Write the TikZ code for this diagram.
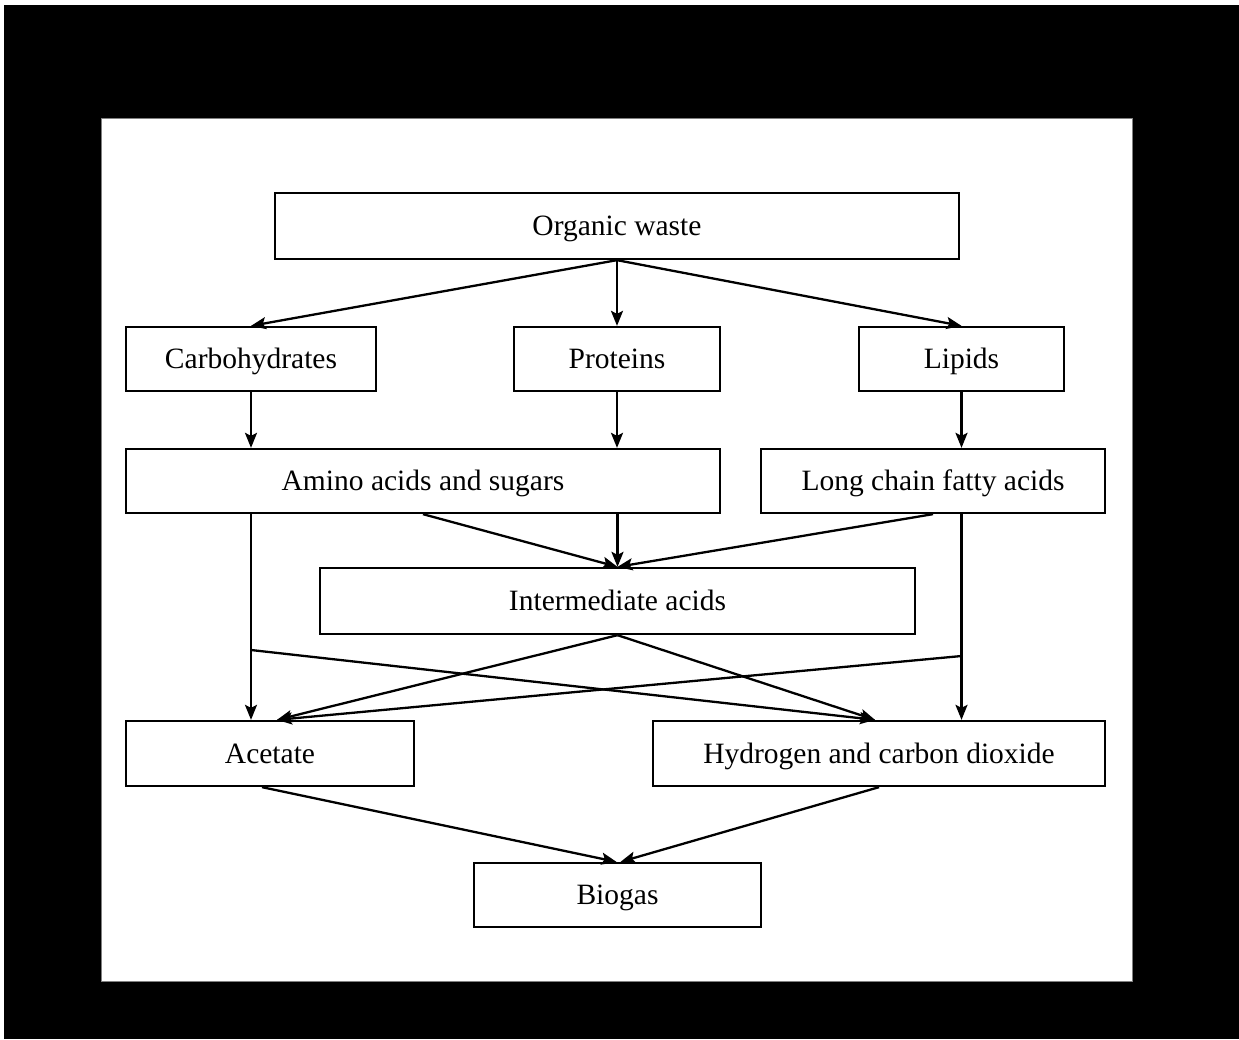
\documentclass[tikz,border=0pt]{standalone}
\usepackage{fontspec}
\setmainfont{Liberation Serif}
\usetikzlibrary{arrows.meta,calc}
\begin{document}
\begin{tikzpicture}[x=1pt,y=-1pt,
  box/.style={draw=black,line width=2.3pt,minimum height=64pt,inner sep=0pt,text height=19pt,text depth=0pt,font=\fontsize{29.5}{34}\selectfont},
  conn/.style={line width=2.3pt,-{Stealth[length=15pt,width=12pt,inset=3pt]}}]
\useasboundingbox (0,0) rectangle (1239,1039);
\fill[white] (0,0) rectangle (1239,1039);
\fill[black] (4,5) rectangle (1239,1039);
\draw[fill=white,draw=gray,line width=1pt] (101,118) rectangle (1132,981);

\node[box,minimum width=684pt,minimum height=66pt] (ow) at (617,226) {Organic waste};
\node[box,minimum width=250pt] (carb) at (251,359) {Carbohydrates};
\node[box,minimum width=206pt] (prot) at (617,359) {Proteins};
\node[box,minimum width=205pt] (lip) at (961.5,359) {Lipids};
\node[box,minimum width=594pt] (amino) at (423,481) {Amino acids and sugars};
\node[box,minimum width=344pt] (lcfa) at (933,481) {Long chain fatty acids};
\node[box,minimum width=595pt,minimum height=66pt] (inter) at (617.5,601) {Intermediate acids};
\node[box,minimum width=288pt,minimum height=65pt] (acet) at (270,753.5) {Acetate};
\node[box,minimum width=452pt,minimum height=65pt] (h2) at (879,753.5) {Hydrogen and carbon dioxide};
\node[box,minimum width=287pt] (bio) at (617.5,895) {Biogas};

\coordinate (ja) at (251,650);
\coordinate (jl) at (961.5,656);
\coordinate (h2in) at ($(h2.north)+(-4,0)$);
\coordinate (acin) at ($(acet.north)+(7,0)$);

\draw[conn] (ow.south) -- (carb.north);
\draw[conn] (ow.south) -- (prot.north);
\draw[conn] (ow.south) -- (lip.north);

\draw[conn] (carb.south) -- (carb.south |- amino.north);
\draw[conn] (prot.south) -- (prot.south |- amino.north);
\draw[conn] (lip.south) -- (lip.south |- lcfa.north);

\draw[conn] (amino.south) -- (inter.north);
\draw[conn] (inter.north |- amino.south) -- (inter.north);
\draw[conn] (lcfa.south) -- (inter.north);

\draw[conn] (carb.south |- amino.south) -- (carb.south |- acet.north);
\draw[conn] (ja) -- (h2in);
\draw[conn] (lip.south |- lcfa.south) -- (lip.south |- h2.north);
\draw[conn] (jl) -- (acin);

\draw[conn] (inter.south) -- (acin);
\draw[conn] (inter.south) -- (h2in);

\draw[conn] ($(acet.south)+(-8,0)$) -- ($(bio.north)+(-1,0)$);
\draw[conn] (h2.south) -- ($(bio.north)+(3,0)$);
\end{tikzpicture}
\end{document}
